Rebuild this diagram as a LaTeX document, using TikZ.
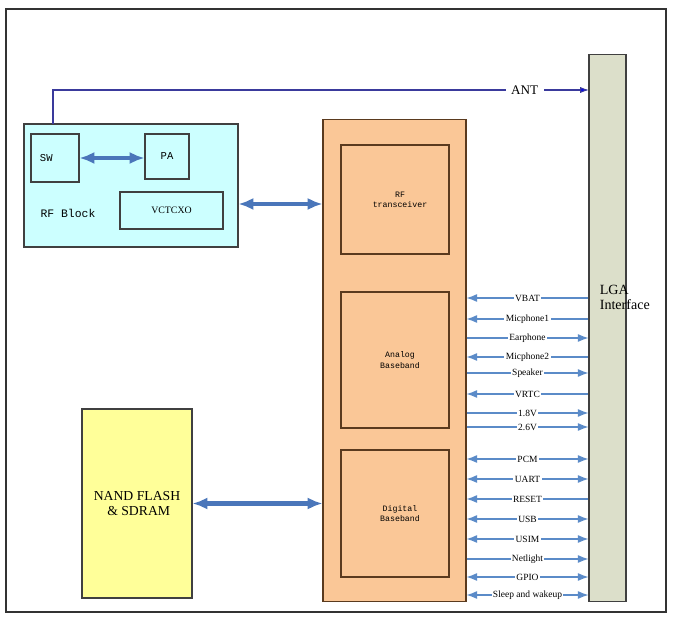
\documentclass[tikz,border=0pt]{standalone}
\usepackage{fontspec}
\setmainfont{Liberation Serif}
\newfontfamily\chipfont{Liberation Mono}
\usetikzlibrary{arrows.meta}
\definecolor{rfcyan}{HTML}{CCFFFF}
\definecolor{bborange}{HTML}{FAC797}
\definecolor{memyellow}{HTML}{FFFF99}
\definecolor{lgagray}{HTML}{DCDFCA}
\definecolor{arrblue}{HTML}{4A76BA}
\definecolor{sigblue}{HTML}{5B8BC8}
\definecolor{antblue}{HTML}{3A3A9C}
\definecolor{brownline}{HTML}{5A3A1E}

\begin{document}
\begin{tikzpicture}[x=0.02cm, y=-0.02cm,
  box/.style = {draw=black!75, line width=0.6pt, inner sep=0pt},
  chip/.style = {box, draw=brownline, font=\chipfont\fontsize{4.7}{5.8}\selectfont, align=center},
  bigarr/.style = {arrblue, line width=2.6pt, {Latex[length=8.5pt,width=7pt]}-{Latex[length=8.5pt,width=7pt]}},
  sig/.style = {sigblue, line width=0.6pt},
  siglab/.style = {fill=white, text=black, inner sep=0.8pt, font=\fontsize{5.4}{6}\selectfont},
  tobb/.style = {{Latex[length=6pt,width=4.5pt]}-},
  tolga/.style = {-{Latex[length=6pt,width=4.5pt]}},
  twoway/.style = {{Latex[length=6pt,width=4.5pt]}-{Latex[length=6pt,width=4.5pt]}}]
  \useasboundingbox (0,0) rectangle (675,624);
  \draw[black!80, line width=0.6pt] (6,9) rectangle (666,612);

  % RF block
  \node[box, fill=rfcyan, minimum width=4.28cm, minimum height=2.46cm] (rf) at (131,185.5) {};
  \node[box, minimum width=0.96cm, minimum height=0.96cm, font=\chipfont\fontsize{6}{7}\selectfont] (sw) at (55,158) {SW\kern3.5mm};
  \node[box, minimum width=0.88cm, minimum height=0.9cm, font=\chipfont\fontsize{6}{7}\selectfont] (pa) at (167,156.5) {PA};
  \node[box, minimum width=2.06cm, minimum height=0.74cm, font=\fontsize{5.6}{6}\selectfont] (vc) at (171.5,210.5) {VCTCXO};
  \node[font=\chipfont\fontsize{6.5}{7}\selectfont] (rflab) at (68,213) {RF Block};

  % baseband chip
  \node[box, draw=brownline, fill=bborange, minimum width=2.86cm, minimum height=9.66cm] (bb) at (394.5,360.5) {};
  \node[chip, minimum width=2.16cm, minimum height=2.18cm] (rft) at (395,199.5) {\hspace{2mm}RF\\\hspace{2mm}transceiver};
  \node[chip, minimum width=2.16cm, minimum height=2.72cm] (abb) at (395,360) {\hspace{2mm}Analog\\\hspace{2mm}Baseband};
  \node[chip, minimum width=2.16cm, minimum height=2.54cm] (dbb) at (395,513.5) {\hspace{2mm}Digital\\\hspace{2mm}Baseband};

  % memory and LGA pads
  \node[box, fill=memyellow, minimum width=2.2cm, minimum height=3.78cm, align=center,
        font=\fontsize{7.8}{8.6}\selectfont] (mem) at (137,503.5) {NAND FLASH\\\ \& SDRAM};
  \node[box, fill=lgagray, minimum width=0.74cm, minimum height=10.96cm] (lga) at (607.5,328) {};
  \node[anchor=north west, align=left, inner sep=0pt, font=\fontsize{8}{8.6}\selectfont] (lgalab) at (599.5,285) {LGA\\Interface};

  % antenna
  \coordinate (antfoot) at (53,124);
  \coordinate (antend) at (589,90);
  \draw[antblue, line width=0.6pt, -{Latex[length=5pt,width=3.5pt,fill=blue]}] (antfoot) |- (antend)
    node[pos=0.94, fill=white, inner sep=3pt, text=black, font=\fontsize{7.5}{8}\selectfont] (ant) {ANT};

  % wide buses
  \draw[bigarr] (sw.east) -- (sw.east -| pa.west);
  \coordinate (rfport) at ([yshift=-3.7mm]rf.east);
  \draw[bigarr] (rfport) -- (rfport -| bb.west);
  \draw[bigarr] (mem.east) -- (mem.east -| bb.west);

  % signals to LGA
  \foreach \y/\txt/\dir in {298/VBAT/tobb, 319/Micphone1/tobb, 338/Earphone/tolga,
      357/Micphone2/tobb, 373/Speaker/tolga, 394/VRTC/tobb, 413/1.8V/tolga, 427/2.6V/tolga,
      459/PCM/twoway, 479/UART/twoway, 499/RESET/tobb, 519/USB/twoway, 539/USIM/twoway,
      559/Netlight/tolga, 577/GPIO/twoway, 595/Sleep and wakeup/twoway}
    \draw[sig, \dir] (bb.east |- 0,\y) -- node[siglab] {\txt} (lga.west |- 0,\y);
\end{tikzpicture}
\end{document}
